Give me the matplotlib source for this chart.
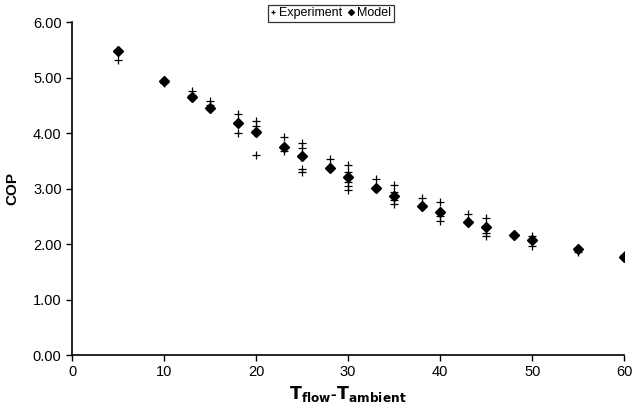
import matplotlib
matplotlib.use("Agg")
import matplotlib.pyplot as plt

plt.rcParams['font.family'] = ['Liberation Sans', 'DejaVu Sans']

# Model values (one per temperature difference)
model_x = [5, 10, 13, 15, 18, 20, 23, 25, 28, 30, 33, 35, 38, 40, 43, 45, 48, 50, 55, 60]
model_y = [5.48, 4.94, 4.65, 4.45, 4.18, 4.01, 3.75, 3.59, 3.37, 3.21, 3.01, 2.86,
           2.68, 2.57, 2.40, 2.30, 2.16, 2.08, 1.91, 1.76]

# Experimental values (several runs at some temperature differences)
exp_x = [5, 10, 13, 13, 15, 15, 18, 18, 20, 20, 20, 20,
         23, 23, 25, 25, 25, 25, 28, 28,
         30, 30, 30, 30, 30, 33, 35, 35, 35, 35,
         38, 40, 40, 40, 43, 45, 45, 45, 48, 50, 50, 55, 60]
exp_y = [5.32, 4.90, 4.75, 4.69, 4.57, 4.51, 4.35, 4.00, 4.21, 4.13, 4.05, 3.60,
         3.93, 3.68, 3.82, 3.73, 3.36, 3.30, 3.53, 3.38,
         3.42, 3.30, 3.12, 3.04, 2.98, 3.17, 3.07, 2.93, 2.79, 2.72,
         2.83, 2.76, 2.50, 2.42, 2.54, 2.46, 2.20, 2.14, 2.17, 2.14, 1.96, 1.86, 1.80]

fig = plt.figure(figsize=(6.34, 4.16), dpi=100)
ax = fig.add_axes([0.1136, 0.1466, 0.871, 0.8004])

ax.plot(exp_x, exp_y, linestyle='none', marker='+', color='black',
        markersize=6, markeredgewidth=0.9, label='Experiment')
ax.plot(model_x, model_y, linestyle='none', marker='D', color='black',
        markersize=5, label='Model')

ax.set_xlim(0, 60)
ax.set_ylim(0, 6)
ax.set_xticks(range(0, 61, 10))
ax.set_yticks([0, 1, 2, 3, 4, 5, 6])
ax.set_yticklabels(["%.2f" % v for v in [0, 1, 2, 3, 4, 5, 6]])

ax.spines['top'].set_visible(False)
ax.spines['right'].set_visible(False)
ax.spines['left'].set_linewidth(1.2)
ax.spines['bottom'].set_linewidth(1.2)
ax.tick_params(direction='out', length=4, width=1, labelsize=10.5)

ax.set_ylabel("COP", fontsize=11, fontweight='bold', labelpad=10)
ax.set_xlabel(r"$\mathbf{T_{flow}}$-$\mathbf{T_{ambient}}$", fontsize=12.5,
              fontweight='bold', labelpad=3)

leg = fig.legend(loc='upper center', bbox_to_anchor=(0.522, 0.988), ncol=2,
                 fontsize=9, frameon=True, fancybox=False, edgecolor='black',
                 handlelength=0.4, handletextpad=0.3, columnspacing=0.5,
                 borderpad=0.2, borderaxespad=0, markerscale=0.6)
leg.get_frame().set_linewidth(0.9)

fig.savefig("out.png", dpi=100, facecolor='white')
